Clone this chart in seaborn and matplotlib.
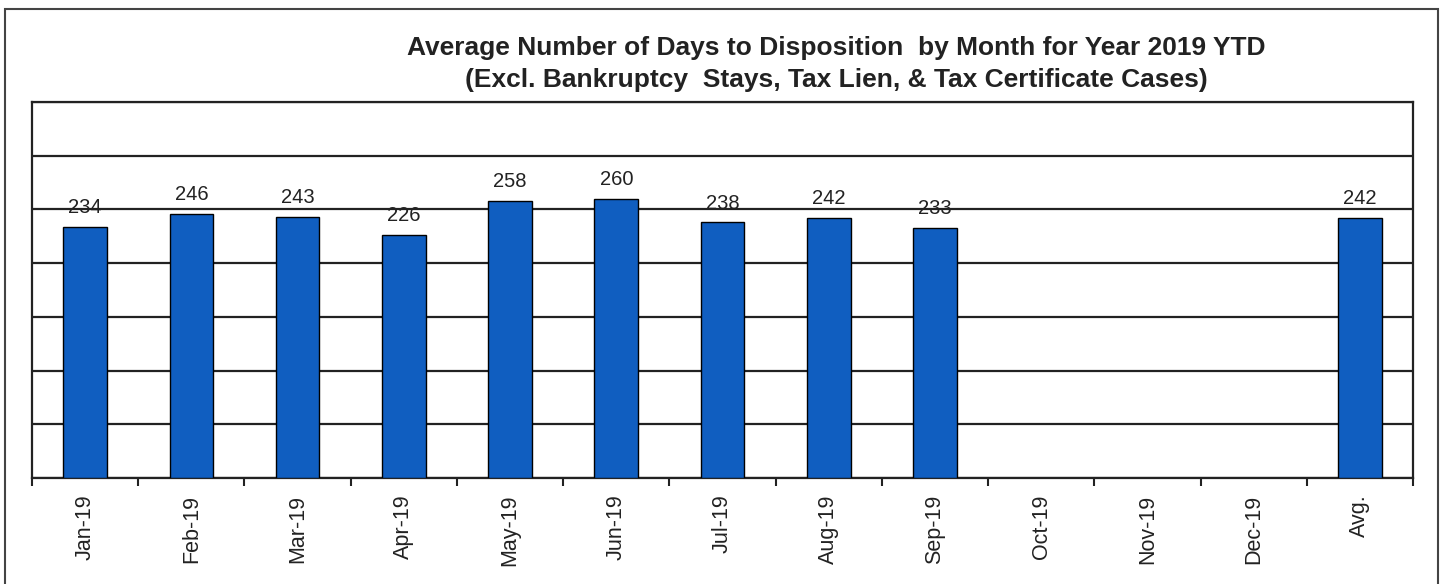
import numpy as np
import pandas as pd
import matplotlib
matplotlib.use("Agg")
import matplotlib.pyplot as plt
import seaborn as sns
from matplotlib.patches import Rectangle

sns.set_theme(style="white")
plt.rcParams['font.family'] = ['Liberation Sans', 'DejaVu Sans']

categories = ["Jan-19", "Feb-19", "Mar-19", "Apr-19", "May-19", "Jun-19", "Jul-19",
              "Aug-19", "Sep-19", "Oct-19", "Nov-19", "Dec-19", "Avg."]
values = [234, 246, 243, 226, 258, 260, 238, 242, 233, np.nan, np.nan, np.nan, 242]
title_lines = ["Average Number of Days to Disposition  by Month for Year 2019 YTD",
               "(Excl. Bankruptcy  Stays, Tax Lien, & Tax Certificate Cases)"]

df = pd.DataFrame({"month": categories, "days": values})

fig = plt.figure(figsize=(14.46, 5.84), dpi=100)
ax = fig.add_axes([32/1446, 1 - 478/584, (1413 - 32)/1446, (478 - 102)/584])

sns.barplot(data=df, x="month", y="days", order=categories, color="#105EC0",
            edgecolor="black", linewidth=1.0, width=0.41, saturation=1, ax=ax, zorder=3)

for c in ax.containers:
    labels = ["" if np.isnan(v) else f"{int(v)}" for v in c.datavalues]
    ax.bar_label(c, labels=labels, padding=7, fontsize=14.5, color="#222222", zorder=4)

ax.set_ylim(0, 350)
ax.set_yticks(np.arange(0, 351, 50))
ax.set_yticklabels([])
ax.tick_params(axis="y", length=0)
ax.grid(axis="y", color="#222222", linewidth=1.6, zorder=0)
ax.set_axisbelow(True)
ax.set_xlim(-0.5, len(categories) - 0.5)
ax.set_xlabel("")
ax.set_ylabel("")

ax.set_xticks(range(len(categories)))
ax.set_xticklabels(categories, rotation=90, fontsize=15.5, color="#222222")
ax.set_xticks(np.arange(-0.5, len(categories), 1.0), minor=True)
ax.tick_params(axis="x", which="major", length=0, pad=12)
ax.tick_params(axis="x", which="minor", length=6, width=1.5, color="#222222", direction="out", bottom=True)

for s in ax.spines.values():
    s.set_visible(True)
    s.set_color("#222222")
    s.set_linewidth(1.6)

fig.text(836/1446, 1 - 48/584, title_lines[0], ha="center", va="center",
         fontsize=19, fontweight="bold", color="#222222")
fig.text(836/1446, 1 - 80/584, title_lines[1], ha="center", va="center",
         fontsize=19, fontweight="bold", color="#222222")

fig.patches.append(Rectangle((5/1446, -0.02), (1438 - 5)/1446, 1 - 9/584 + 0.02,
                             transform=fig.transFigure, fill=False,
                             edgecolor="#444444", linewidth=1.5))

fig.savefig("out.png", dpi=100)
